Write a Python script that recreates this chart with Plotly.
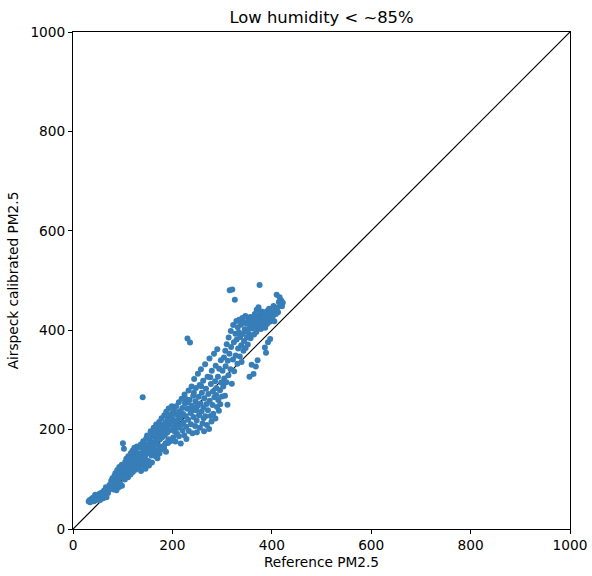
import plotly.graph_objects as go

TITLE = "Low humidity < ~85%"
X_LABEL = "Reference PM2.5"
Y_LABEL = "Airspeck calibrated PM2.5"
TICKS = [0, 200, 400, 600, 800, 1000]

# reference PM2.5 (x) and calibrated Airspeck PM2.5 (y), in bands of x
ref_a = [31.5, 33.2, 34.8, 36.1, 37.9, 38.6, 40.3, 41.7, 42.2, 43.9, 45.4, 46.8, 47.1, 48.9, 50.2,
         51.6, 52.7, 54.3, 55.8, 57.2, 58.5, 59.9, 61.3, 62.6, 64.1, 65.7, 67.4, 68.8, 70.5, 72.1,
         44.6, 53.9, 60.8, 66.2]
air_a = [55.1, 57.8, 53.6, 59.4, 56.2, 61.9, 58.3, 63.5, 55.7, 60.8, 65.9, 58.6, 62.4, 67.1, 61.2,
         69.4, 64.8, 71.3, 60.5, 67.7, 73.6, 65.2, 70.9, 77.4, 68.3, 74.8, 63.9, 79.6, 72.5, 81.3,
         68.9, 57.8, 62.1, 84.2]

ref_b = [73.4, 75.1, 76.8, 77.5, 79.2, 80.6, 81.9, 83.3, 84.7, 85.2, 86.9, 88.4, 89.1, 90.7, 91.5,
         93.2, 94.6, 95.3, 96.9, 98.2, 99.7, 100.4, 101.8, 102.5, 103.9, 105.1, 106.6, 107.3, 108.8,
         109.5, 111.2, 112.7, 113.4, 114.9, 116.3, 117.1, 118.6, 119.8, 121.2, 122.7, 123.5, 124.9,
         126.4, 127.2, 128.7, 129.6, 98.6, 104.3, 110.8, 115.7, 120.4, 125.8, 87.5, 92.8]
air_b = [88.5, 81.2, 96.7, 85.9, 102.3, 91.4, 79.6, 106.8, 95.1, 112.4, 88.3, 103.9, 118.6, 97.2,
         109.8, 124.7, 92.5, 115.3, 104.6, 129.4, 112.9, 172.3, 121.6, 161.4, 106.2, 134.8, 117.3,
         141.5, 126.1, 108.4, 146.2, 131.7, 115.9, 138.6, 152.3, 122.8, 143.1, 157.4, 129.5, 148.2,
         163.6, 135.4, 154.9, 121.7, 166.1, 142.8, 87.1, 99.4, 104.2, 109.6, 114.7, 119.3, 78.2, 84.6]

ref_c = [130.8, 131.6, 132.9, 133.7, 134.5, 135.8, 136.4, 137.9, 138.3, 139.6, 140.2, 141.4, 141.9,
         142.8, 143.5, 144.7, 145.3, 146.6, 147.2, 148.5, 149.1, 150.3, 151.7, 152.4, 153.8, 154.2,
         155.6, 156.3, 157.7, 158.4, 159.9, 160.5, 161.8, 162.3, 163.6, 164.9, 165.4, 166.8, 167.3,
         168.7, 169.2, 170.6, 171.4, 172.8, 173.3, 174.6, 175.9, 176.4, 177.8, 178.2, 179.5, 180.9,
         181.6, 182.3, 183.7, 184.4, 185.8, 186.2, 187.6, 188.3, 189.7, 190.4, 191.8, 192.5, 193.9,
         194.6, 195.2, 196.7, 197.4, 198.8, 199.5, 145.9, 158.9, 166.1, 174.1, 183.1, 191.3, 136.9,
         152.9, 169.9, 187.1]
air_c = [151.2, 128.3, 163.4, 140.7, 124.8, 136.9, 170.2, 152.6, 129.4, 145.1, 265.2, 176.7, 158.8,
         137.5, 131.9, 167.4, 148.6, 139.2, 182.3, 160.9, 188.1, 152.7, 136.8, 171.6, 157.3, 179.2,
         168.8, 196.6, 147.9, 163.6, 186.4, 152.1, 174.5, 203.9, 168.9, 193.8, 158.2, 181.7, 210.3,
         176.6, 149.8, 199.5, 188.9, 167.1, 215.4, 180.5, 205.2, 159.4, 194.3, 222.6, 184.6, 209.7,
         198.4, 166.8, 228.9, 189.2, 214.5, 172.3, 235.7, 203.1, 194.1, 221.6, 180.5, 242.4, 209.8,
         198.6, 229.2, 176.9, 216.4, 247.1, 232.5, 121.4, 133.8, 146.2, 151.7, 163.2, 172.9, 116.5,
         127.9, 142.3, 155.6]

ref_d = [200.7, 201.4, 202.8, 203.3, 204.6, 205.9, 206.2, 207.5, 208.8, 209.3, 210.6, 211.4, 212.9,
         213.2, 214.7, 215.5, 216.8, 217.3, 218.6, 219.9, 220.4, 221.7, 222.2, 223.8, 224.5, 225.3,
         226.9, 227.6, 228.2, 229.7, 230.3, 231.8, 232.5, 233.1, 234.6, 235.4, 236.8, 237.2, 238.7,
         239.5, 240.3, 241.9, 242.4, 243.8, 244.1, 245.7, 246.5, 247.3, 248.9, 249.2, 250.6, 251.3,
         252.8, 253.5, 254.9, 255.2, 256.7, 257.4, 258.8, 259.3, 260.6, 261.9, 262.4, 263.7, 264.2,
         265.8, 266.3, 267.6, 268.9, 269.4, 270.7, 271.5, 272.3, 273.8, 274.6, 275.1, 276.9, 277.4,
         278.7, 279.2, 280.8, 281.5, 282.3, 283.7, 284.4, 285.9, 286.6, 287.1, 288.5, 289.8, 290.3,
         291.7, 292.4, 293.6, 294.1, 295.8, 296.2, 297.5, 298.3, 299.7, 230.8, 235.9, 213.9, 227.1,
         248.1, 262.9, 276.2, 288.1, 257.9, 243.2]
air_d = [221.3, 183.9, 205.2, 238.4, 196.1, 212.7, 176.3, 247.2, 229.8, 191.4, 218.3, 203.7, 255.1,
         186.5, 236.9, 224.6, 171.8, 209.4, 262.3, 243.5, 198.2, 231.6, 214.9, 188.7, 270.4, 252.9,
         227.1, 205.6, 181.2, 241.8, 383.4, 219.7, 278.6, 197.3, 259.4, 375.2, 233.2, 210.8, 286.9,
         248.1, 192.6, 268.3, 225.4, 301.7, 239.6, 207.3, 256.8, 283.5, 218.1, 194.7, 247.5, 312.4,
         265.9, 229.1, 289.6, 203.8, 252.7, 321.3, 236.4, 273.9, 212.5, 298.1, 244.7, 196.6, 263.1,
         331.6, 226.8, 282.4, 251.3, 209.2, 306.5, 238.7, 271.6, 201.4, 343.1, 258.2, 227.3, 291.7,
         216.1, 318.5, 249.4, 276.8, 231.9, 352.6, 265.2, 297.4, 222.4, 328.7, 283.9, 245.3, 361.8,
         306.2, 259.6, 237.8, 322.5, 279.3, 251.1, 339.6, 294.8, 266.4, 254.3, 243.1, 226.2, 261.7,
         238.9, 222.6, 305.4, 269.8, 287.3, 274.1]

ref_e = [300.9, 302.4, 303.7, 304.2, 305.8, 306.5, 307.1, 308.6, 309.3, 310.8, 311.4, 312.7, 313.2,
         314.6, 315.3, 316.9, 317.5, 318.1, 319.6, 320.4, 321.8, 322.3, 323.7, 324.2, 325.6, 326.8,
         327.3, 328.7, 329.4, 330.9, 331.5, 332.2, 333.8, 334.4, 335.7, 336.3, 337.8, 338.5, 339.2,
         340.7, 341.3, 342.9, 343.6, 344.1, 345.5, 346.8, 347.3, 348.9, 349.6, 350.2, 351.7, 352.4,
         353.8, 354.5, 355.1, 356.7, 357.3, 358.8, 359.4, 360.1, 363.2, 367.8, 371.4]
air_e = [318.4, 286.7, 345.2, 302.9, 268.3, 358.7, 327.4, 295.1, 371.6, 249.8, 338.5, 309.2, 385.3,
         352.7, 480.6, 321.4, 398.4, 366.2, 292.5, 481.9, 340.8, 410.3, 375.6, 317.2, 461.4, 392.7,
         348.9, 418.5, 381.3, 332.6, 405.7, 363.4, 395.8, 421.2, 347.1, 386.5, 410.9, 369.8, 336.2,
         424.3, 392.6, 358.5, 415.4, 378.2, 401.7, 428.6, 364.3, 397.5, 412.8, 385.1, 371.2, 420.6,
         402.3, 391.7, 306.4, 426.4, 383.8, 409.2, 330.5, 415.7, 312.1, 326.8, 339.4]

ref_f = [361.5, 362.8, 364.3, 365.7, 366.2, 367.4, 368.9, 369.5, 370.3, 371.8, 372.6, 373.2, 374.7,
         375.4, 376.9, 377.5, 378.1, 379.6, 380.3, 381.8, 382.5, 383.9, 385.2, 386.6, 387.3, 388.8,
         390.4, 391.7, 392.9, 394.5, 395.8, 397.2, 398.6, 400.3, 401.9, 403.4, 405.1, 406.7, 408.2,
         409.8, 411.3, 412.6, 414.2, 415.7, 417.3, 418.9, 420.4, 422.1, 386.1, 392.3, 388.4, 396.7]
air_f = [403.5, 422.8, 391.4, 432.6, 408.7, 417.9, 396.2, 441.3, 425.4, 405.8, 429.7, 446.2, 412.3,
         490.7, 432.1, 418.5, 402.6, 437.8, 424.3, 411.9, 436.4, 419.6, 428.2, 404.8, 433.5, 421.7,
         412.4, 438.9, 425.6, 443.1, 416.8, 430.4, 421.3, 436.7, 427.5, 448.9, 418.2, 440.6, 432.4,
         471.3, 445.7, 436.2, 456.8, 466.5, 449.3, 459.7, 448.2, 455.4, 365.2, 375.8, 354.6, 382.3]

ref_pm = ref_a + ref_b + ref_c + ref_d + ref_e + ref_f
airspeck_pm = air_a + air_b + air_c + air_d + air_e + air_f

fig = go.Figure()

# 1:1 line
fig.add_trace(go.Scatter(
    x=[TICKS[0], TICKS[-1]], y=[TICKS[0], TICKS[-1]],
    mode="lines", line=dict(color="black", width=1.2),
    hoverinfo="skip", showlegend=False,
))

fig.add_trace(go.Scatter(
    x=ref_pm, y=airspeck_pm, mode="markers",
    marker=dict(color="#377eb8", size=6, line=dict(width=0)),
    showlegend=False,
))

axis_style = dict(
    range=[0, 1000], tickvals=TICKS, showgrid=False, zeroline=False,
    showline=True, linecolor="black", linewidth=1, mirror=True,
    ticks="outside", ticklen=4, tickcolor="black",
    tickfont=dict(size=13.7, color="black"), automargin=False,
)

fig.update_layout(
    width=592, height=576,
    margin=dict(l=73, r=22, t=32, b=47),
    paper_bgcolor="white", plot_bgcolor="white",
    font=dict(family="DejaVu Sans", color="black"),
    title=dict(text=TITLE, x=0.5, xref="paper", y=1 - 17 / 576, yref="container",
               xanchor="center", yanchor="middle", font=dict(size=16.4)),
    xaxis=dict(title=dict(text=X_LABEL, font=dict(size=13.7), standoff=4),
               ticklabelstandoff=0, **axis_style),
    yaxis=dict(title=dict(text=Y_LABEL, font=dict(size=13.7), standoff=8), **axis_style),
)

# page has a default 8px body margin; drop it so the figure sits at the window origin
fig.write_html("out.html", config={"displayModeBar": False},
               post_script="document.body.style.margin='0';")
